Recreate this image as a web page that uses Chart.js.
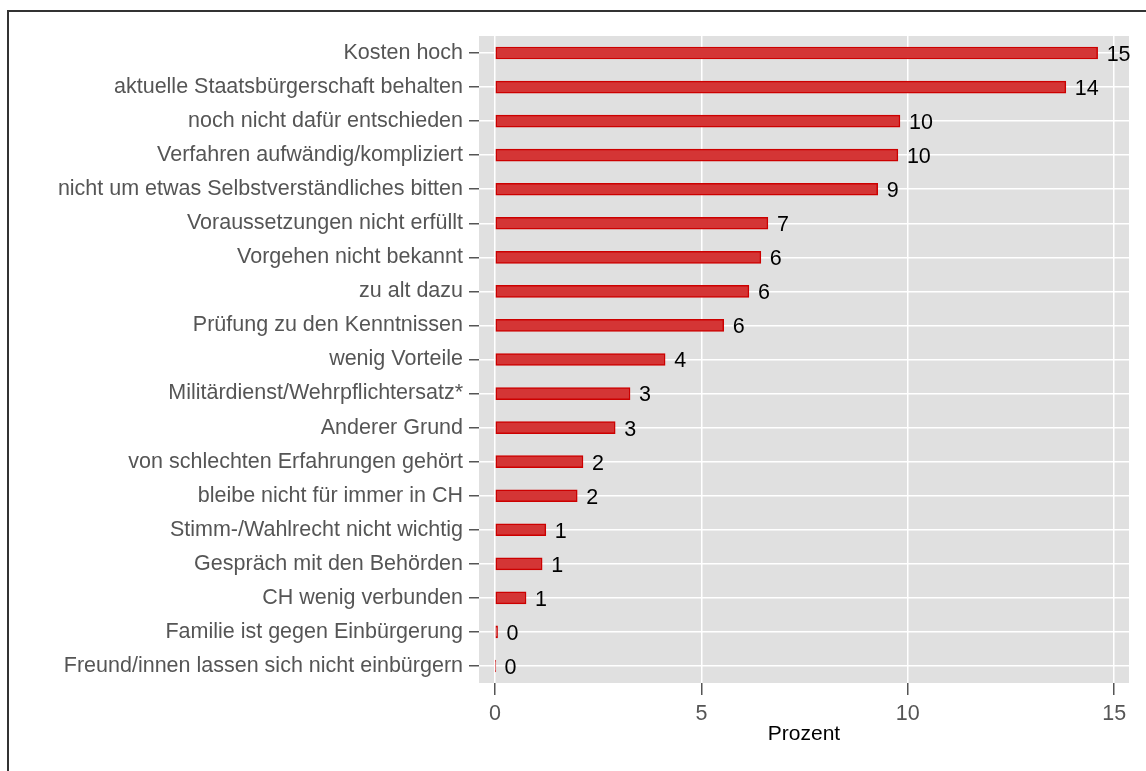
<!DOCTYPE html>
<html>
<head>
<meta charset="utf-8">
<script src="https://cdn.jsdelivr.net/npm/chart.js@4"></script>
<style>
  html, body { margin: 0; padding: 0; background: #fff; }
  #wrap { position: relative; width: 1146px; height: 771px; overflow: hidden; }
  #frame { position: absolute; left: 7px; top: 10px; width: 1200px; height: 800px; border-left: 2px solid #333; border-top: 2px solid #333; box-sizing: border-box; }
  canvas { position: absolute; left: 0; top: 0; }
</style>
</head>
<body>
<div id="wrap">
  <div id="frame"></div>
  <canvas id="reasonsChart" width="1146" height="771"></canvas>
</div>
<script>
// Gründe gegen Einbürgerung (Prozent)
const reasons = [
    'Kosten hoch',
    'aktuelle Staatsbürgerschaft behalten',
    'noch nicht dafür entschieden',
    'Verfahren aufwändig/kompliziert',
    'nicht um etwas Selbstverständliches bitten',
    'Voraussetzungen nicht erfüllt',
    'Vorgehen nicht bekannt',
    'zu alt dazu',
    'Prüfung zu den Kenntnissen',
    'wenig Vorteile',
    'Militärdienst/Wehrpflichtersatz*',
    'Anderer Grund',
    'von schlechten Erfahrungen gehört',
    'bleibe nicht für immer in CH',
    'Stimm-/Wahlrecht nicht wichtig',
    'Gespräch mit den Behörden',
    'CH wenig verbunden',
    'Familie ist gegen Einbürgerung',
    'Freund/innen lassen sich nicht einbürgern'
];
const percent = [14.60, 13.83, 9.81, 9.76, 9.27, 6.61, 6.44, 6.15, 5.54, 4.12, 3.27, 2.91, 2.13, 1.99, 1.23, 1.14, 0.75, 0.06, 0.01];
const valueLabels = ['15', '14', '10', '10', '9', '7', '6', '6', '6', '4', '3', '3', '2', '2', '1', '1', '1', '0', '0'];
const xTicks = [0, 5, 10, 15];

const FONT = '"Liberation Sans", Arial, sans-serif';

const panelBg = {
    id: 'panelBg',
    beforeDraw(chart) {
        const a = chart.chartArea;
        const c = chart.ctx;
        c.save();
        c.fillStyle = '#e0e0e0';
        c.fillRect(a.left, a.top, a.right - a.left, a.bottom - a.top);
        c.restore();
    }
};

const barValues = {
    id: 'barValues',
    afterDatasetsDraw(chart) {
        const c = chart.ctx;
        c.save();
        c.font = '21.5px ' + FONT;
        c.fillStyle = '#000';
        c.textAlign = 'left';
        c.textBaseline = 'middle';
        chart.getDatasetMeta(0).data.forEach(function(bar, i) {
            c.fillText(valueLabels[i], bar.x + 9, bar.y + 2);
        });
        c.restore();
    }
};

new Chart(document.getElementById('reasonsChart').getContext('2d'), {
    type: 'bar',
    data: {
        labels: reasons,
        datasets: [{
            data: percent,
            backgroundColor: '#d43535',
            borderColor: '#cc0000',
            borderWidth: 1.5,
            barThickness: 12,
            borderSkipped: false
        }]
    },
    options: {
        indexAxis: 'y',
        responsive: false,
        animation: false,
        layout: { padding: { top: 36, right: 17, left: 0, bottom: 0 } },
        plugins: {
            legend: { display: false },
            tooltip: { enabled: false }
        },
        scales: {
            x: {
                min: -0.39,
                max: 15.36,
                afterBuildTicks: function(scale) {
                    scale.ticks = xTicks.map(function(v) { return { value: v }; });
                },
                afterFit: function(scale) { scale.height = 771 - 683; },
                border: { display: false },
                grid: {
                    color: '#ffffff',
                    lineWidth: 1.5,
                    tickColor: '#555555',
                    tickLength: 12
                },
                ticks: {
                    color: '#555555',
                    padding: 6,
                    font: { family: FONT, size: 21.5 }
                },
                title: {
                    display: true,
                    text: 'Prozent',
                    color: '#000',
                    padding: { top: 0, bottom: 24 },
                    font: { family: FONT, size: 21 }
                }
            },
            y: {
                afterFit: function(scale) { scale.width = 479; },
                border: { display: false },
                grid: {
                    offset: false,
                    color: '#ffffff',
                    lineWidth: 1.5,
                    tickColor: '#555555',
                    tickLength: 10
                },
                ticks: {
                    color: '#555555',
                    padding: 6,
                    autoSkip: false,
                    font: { family: FONT, size: 21.5 }
                }
            }
        }
    },
    plugins: [panelBg, barValues]
});
</script>
</body>
</html>
